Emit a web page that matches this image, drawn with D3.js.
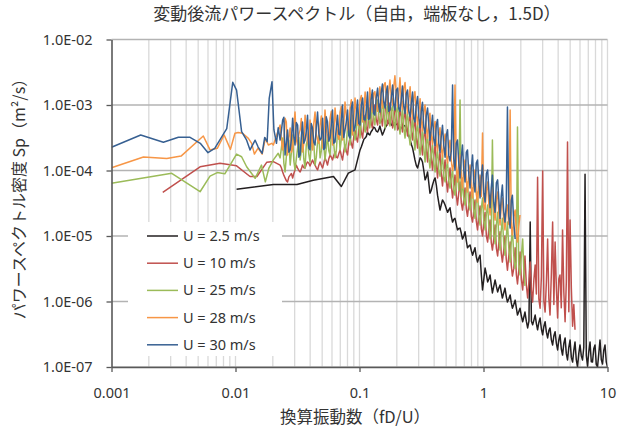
<!DOCTYPE html>
<html>
<head>
<meta charset="utf-8">
<script src="https://cdn.jsdelivr.net/npm/d3@7"></script>
<style>
  body { margin: 0; background: #fff; }
  svg { display: block; font-family: "Noto Sans", "Noto Sans CJK JP", sans-serif; }
</style>
</head>
<body>
<svg width="617" height="435"></svg>
<script>
// Data =====================================================

var labels = ["U = 2.5 m/s", "U = 10 m/s", "U = 25 m/s", "U = 28 m/s", "U = 30 m/s"];
var colors = ["#231f20", "#c0504d", "#9bbb59", "#f79646", "#376092"];

var yTicks = [1e-7, 1e-6, 1e-5, 1e-4, 1e-3, 1e-2];
var yTickLabels = ["1.0E-07", "1.0E-06", "1.0E-05", "1.0E-04", "1.0E-03", "1.0E-02"];
var xTicks = [0.001, 0.01, 0.1, 1, 10];
var xTickLabels = ["0.001", "0.01", "0.1", "1", "10"];

// frequency bins (fD/U) of the dense part of the spectra
var fGrid = [
  0.0229, 0.02344, 0.0240, 0.02454, 0.0251, 0.02569, 0.0263, 0.02694, 0.0276, 0.02824,
  0.0289, 0.02954, 0.0302, 0.03094, 0.0317, 0.03244, 0.0332, 0.03394, 0.0347, 0.03554,
  0.0364, 0.03724, 0.0381, 0.03899, 0.0399, 0.04084, 0.0418, 0.04279, 0.0438, 0.04484,
  0.0459, 0.04699, 0.0481, 0.04924, 0.0504, 0.05154, 0.0527, 0.05394, 0.0552, 0.05653,
  0.0579, 0.05924, 0.0606, 0.06203, 0.0635, 0.06498, 0.0665, 0.06808, 0.0697, 0.07133,
  0.0730, 0.07468, 0.0764, 0.07823, 0.0801, 0.08198, 0.0839, 0.08588, 0.0879, 0.08993,
  0.0920, 0.09418, 0.0964, 0.09868, 0.101, 0.1035, 0.106, 0.1085, 0.111, 0.1135,
  0.116, 0.1185, 0.121, 0.124, 0.127, 0.130, 0.133, 0.1365, 0.140, 0.143,
  0.146, 0.1495, 0.153, 0.157, 0.161, 0.1645, 0.168, 0.172, 0.176, 0.1805,
  0.185, 0.189, 0.193, 0.198, 0.203, 0.2075, 0.212, 0.217, 0.222, 0.2275,
  0.233, 0.2385, 0.244, 0.250, 0.256, 0.262, 0.268, 0.274, 0.280, 0.287,
  0.294, 0.301, 0.308, 0.315, 0.322, 0.330, 0.338, 0.346, 0.354, 0.362,
  0.370, 0.379, 0.388, 0.3975, 0.407, 0.4165, 0.426, 0.436, 0.446, 0.4565,
  0.467, 0.4785, 0.490, 0.5015, 0.513, 0.525, 0.537, 0.550, 0.563, 0.576,
  0.589, 0.603, 0.617, 0.632, 0.647, 0.662, 0.677, 0.6935, 0.710, 0.7265,
  0.743, 0.761, 0.779, 0.7975, 0.816, 0.835, 0.854, 0.8745, 0.895, 0.9165,
  0.938, 0.960, 0.982, 1.006, 1.03, 1.055, 1.08, 1.105, 1.13, 1.155,
  1.18, 1.21, 1.24, 1.27, 1.30, 1.33, 1.36, 1.39, 1.42, 1.455,
  1.49, 1.525, 1.56, 1.60, 1.64, 1.675, 1.71, 1.755, 1.80, 1.84,
  1.88, 1.925, 1.97, 2.02, 2.07, 2.115, 2.16, 2.215, 2.27, 2.325,
  2.38, 2.435, 2.49, 2.55, 2.61, 2.67, 2.73, 2.795, 2.86, 2.93,
  3.00, 3.07, 3.14, 3.215, 3.29, 3.365, 3.44, 3.525, 3.61, 3.695,
  3.78, 3.87, 3.96, 4.05, 4.14, 4.24, 4.34, 4.445, 4.55, 4.655,
  4.76, 4.875, 4.99, 5.11, 5.23, 5.35, 5.47, 5.60, 5.73, 5.865,
  6.00, 6.145, 6.29, 6.44, 6.59, 6.745, 6.90, 7.065, 7.23, 7.40,
  7.57, 7.75, 7.93, 8.12, 8.31, 8.505, 8.70, 8.91, 9.12, 9.335,
  9.55, 9.77, 10.0
];

// low frequency points [fD/U, Sp]
var lowU2_5 = [[0.0102, 5.17e-5], [0.0202, 6.1e-5], [0.0313, 6.1e-5], [0.0424, 7.1e-5],
  [0.0617, 8.1e-5], [0.0714, 5.7e-5], [0.0813, 9.1e-5], [0.092, 1.02e-4]];
var lowU10 = [[0.00259, 4.64e-5], [0.00518, 1.14e-4], [0.0075, 1.29e-4], [0.0102, 1.18e-4],
  [0.0131, 8.1e-5], [0.0149, 8.1e-5], [0.0179, 1.34e-4], [0.0202, 1.37e-4]];
var lowU25 = [[0.001, 6.38e-5], [0.00306, 9.06e-5], [0.00518, 4.74e-5], [0.00623, 8.2e-5],
  [0.00713, 9.3e-5], [0.0082, 8.9e-5], [0.0102, 1.78e-4], [0.0112, 1.62e-4], [0.0123, 1.14e-4],
  [0.0144, 7.6e-5], [0.0162, 1.21e-4], [0.0174, 6.7e-5], [0.0186, 1.09e-4], [0.0202, 1.45e-4],
  [0.0221, 1.83e-4]];
var lowU28 = [[0.001, 1.10e-4], [0.00181, 1.61e-4], [0.00279, 1.53e-4], [0.00364, 1.66e-4],
  [0.0055, 3.36e-4], [0.00623, 2.06e-4], [0.00713, 2.18e-4], [0.0081, 3.48e-4], [0.0091, 2.1e-4],
  [0.0099, 3.7e-4], [0.0105, 3.8e-4], [0.0114, 3.7e-4], [0.0127, 3.1e-4], [0.0135, 2.6e-4],
  [0.0142, 1.78e-4], [0.0152, 2.2e-4], [0.0164, 1.78e-4], [0.0174, 3.1e-4], [0.0184, 2.45e-4],
  [0.0196, 2.6e-4], [0.0202, 2.45e-4], [0.0215, 3.5e-4]];
var lowU30 = [[0.001, 2.26e-4], [0.00172, 3.48e-4], [0.00262, 2.70e-4], [0.00346, 3.21e-4],
  [0.0043, 3.21e-4], [0.0052, 2.6e-4], [0.006, 1.87e-4], [0.0068, 2.18e-4], [0.0085, 4.35e-4],
  [0.0095, 2.22e-3], [0.0102, 1.69e-3], [0.0112, 3.91e-4], [0.0123, 2.9e-4], [0.0131, 2.06e-4],
  [0.0144, 2.9e-4], [0.0152, 2.3e-4], [0.0164, 1.83e-4], [0.0172, 3.2e-4], [0.018, 2.75e-4],
  [0.0187, 1.26e-3], [0.0197, 2.27e-3], [0.0204, 4.2e-4], [0.0214, 2.6e-4], [0.0221, 4.5e-4]];

// dense part: Sp on fGrid, starting at fGrid[denseStart[k]]
var denseStart = [64, 0, 0, 0, 0];
var denseU2_5 = [
  2.06e-4, 2.3e-4, 2.63e-4, 3.0e-4, 3.13e-4, 3.3e-4, 3.87e-4, 3.6e-4, 3.48e-4, 3.9e-4,
  4.15e-4, 4.6e-4, 4.46e-4, 4.0e-4, 3.87e-4, 4.2e-4, 4.78e-4, 4.0e-4, 3.48e-4, 3.9e-4,
  4.46e-4, 4.8e-4, 5.13e-4, 5.4e-4, 5.7e-4, 5.0e-4, 4.78e-4, 5.2e-4, 5.3e-4, 5.1e-4,
  4.95e-4, 4.4e-4, 4.15e-4, 4.5e-4, 4.62e-4, 4.9e-4, 4.78e-4, 4.3e-4, 3.87e-4, 3.4e-4,
  2.92e-4, 2.5e-4, 2.2e-4, 1.8e-4, 1.45e-4, 1.2e-4, 1.09e-4, 1.3e-4, 1.56e-4, 1.5e-4,
  1.35e-4, 1.0e-4, 7.2e-5, 8.0e-5, 9.5e-5, 6.5e-5, 4.5e-5, 5.0e-5, 6.0e-5, 7.0e-5,
  7.7e-5, 6.0e-5, 4.2e-5, 3.2e-5, 2.49e-5, 3.0e-5, 3.55e-5, 3.3e-5, 2.97e-5, 2.6e-5,
  2.3e-5, 2.5e-5, 2.7e-5, 2.0e-5, 1.63e-5, 1.8e-5, 1.86e-5, 1.5e-5, 1.24e-5, 1.3e-5,
  1.32e-5, 1.1e-5, 9.0e-6, 1.0e-5, 1.16e-5, 8.5e-6, 6.6e-6, 7.0e-6, 7.3e-6, 6.0e-6,
  5.1e-6, 5.8e-6, 6.6e-6, 4.8e-6, 4.0e-6, 4.6e-6, 5.1e-6, 2.6e-6, 1.5e-6, 2.2e-6,
  3.24e-6, 2.6e-6, 1.99e-6, 2.2e-6, 2.54e-6, 1.8e-6, 1.35e-6, 1.7e-6, 2.13e-6, 1.7e-6,
  1.4e-6, 1.6e-6, 1.79e-6, 1.4e-6, 1.13e-6, 1.35e-6, 1.6e-6, 1.2e-6, 9.8e-7, 1.1e-6,
  1.26e-6, 9.5e-7, 7.9e-7, 9.0e-7, 1.05e-6, 8.0e-7, 6.2e-7, 7.0e-7, 7.9e-7, 6.0e-7,
  4.9e-7, 5.8e-7, 6.9e-7, 5.0e-7, 3.95e-7, 5.0e-7, 1.63e-5, 5.0e-7, 4.4e-7, 5.2e-7,
  6.2e-7, 4.6e-7, 3.7e-7, 4.8e-7, 5.6e-7, 3.8e-7, 3.1e-7, 4.2e-7, 4.9e-7, 3.4e-7,
  2.78e-7, 3.6e-7, 3.95e-7, 2.6e-7, 2.17e-7, 3.0e-7, 3.45e-7, 2.3e-7, 1.82e-7, 2.6e-7,
  3.1e-7, 1.9e-7, 1.52e-7, 2.3e-7, 2.78e-7, 1.6e-7, 1.28e-7, 2.0e-7, 2.58e-7, 1.4e-7,
  1.19e-7, 1.8e-7, 2.4e-7, 1.3e-7, 1.0e-7, 1.6e-7, 2.17e-7, 1.5e-7, 1.28e-7, 2.0e-7,
  8.8e-5, 1.5e-7, 1.03e-7, 1.7e-7, 2.4e-7, 1.2e-7, 1.19e-7, 1.9e-7, 2.17e-7, 1.1e-7,
  1.0e-7, 1.6e-7, 2.58e-7, 1.3e-7, 1.11e-7, 1.8e-7, 2.17e-7, 1.2e-7, 1.0e-7
];
var denseU10 = [
  1.21e-4, 1.1e-4, 9.5e-5, 8.5e-5, 7.7e-5, 7.0e-5, 6.7e-5, 8.0e-5, 8.5e-5, 9.0e-5,
  7.7e-5, 9.0e-5, 1.02e-4, 1.2e-4, 1.09e-4, 1.0e-4, 9.5e-5, 1.05e-4, 1.21e-4, 1.1e-4,
  1.09e-4, 1.25e-4, 1.35e-4, 1.3e-4, 1.17e-4, 1.3e-4, 1.45e-4, 1.3e-4, 1.21e-4, 1.1e-4,
  1.02e-4, 1.2e-4, 1.35e-4, 1.2e-4, 1.09e-4, 1.3e-4, 1.56e-4, 1.4e-4, 1.21e-4, 1.5e-4,
  1.73e-4, 1.6e-4, 1.45e-4, 1.7e-4, 1.92e-4, 1.6e-4, 1.56e-4, 1.8e-4, 2.06e-4, 1.7e-4,
  1.45e-4, 2.0e-4, 2.45e-4, 2.0e-4, 1.73e-4, 2.6e-4, 3.13e-4, 2.6e-4, 2.2e-4, 3.3e-4,
  4.15e-4, 3.2e-4, 2.72e-4, 4.2e-4, 5.5e-4, 3.8e-4, 3.13e-4, 5.2e-4, 7.0e-4, 4.6e-4,
  3.87e-4, 6.5e-4, 9.0e-4, 5.5e-4, 4.46e-4, 7.5e-4, 1.0e-3, 6.0e-4, 4.95e-4, 8.0e-4,
  1.04e-3, 6.5e-4, 4.78e-4, 9.0e-4, 1.11e-3, 7.0e-4, 4.95e-4, 6.0e-4, 1.07e-3, 8.0e-4,
  4.46e-4, 6.0e-4, 9.7e-4, 7.5e-4, 4.15e-4, 5.5e-4, 9.0e-4, 6.5e-4, 3.87e-4, 6.0e-4,
  8.5e-4, 5.0e-4, 3.36e-4, 5.5e-4, 7.5e-4, 4.0e-4, 2.92e-4, 4.6e-4, 6.3e-4, 3.2e-4,
  2.2e-4, 3.6e-4, 5.2e-4, 2.6e-4, 1.73e-4, 3.2e-4, 4.3e-4, 2.2e-4, 1.35e-4, 2.4e-4,
  3.3e-4, 1.6e-4, 1.02e-4, 1.7e-4, 2.45e-4, 1.3e-4, 7.7e-5, 1.4e-4, 1.92e-4, 9.0e-5,
  5.8e-5, 1.0e-4, 1.45e-4, 7.0e-5, 4.7e-5, 7.5e-5, 1.09e-4, 6.0e-5, 3.8e-5, 5.5e-5,
  8.5e-5, 4.2e-5, 2.97e-5, 4.6e-5, 6.7e-5, 3.2e-5, 2.49e-5, 3.6e-5, 5.4e-5, 2.6e-5,
  2.0e-5, 3.0e-5, 4.7e-5, 2.0e-5, 1.63e-5, 2.4e-5, 3.55e-5, 1.7e-5, 1.24e-5, 2.0e-5,
  2.87e-5, 1.3e-5, 1.0e-5, 1.6e-5, 2.3e-5, 1.0e-5, 8.1e-6, 1.3e-5, 1.75e-5, 8.0e-6,
  6.1e-6, 9.0e-6, 1.47e-5, 6.5e-6, 4.95e-6, 8.0e-6, 1.16e-5, 5.5e-6, 4.0e-6, 6.0e-6,
  1.0e-5, 4.5e-6, 3.0e-6, 5.0e-6, 8.1e-6, 3.6e-6, 2.45e-6, 3.2e-6, 6.6e-6, 2.6e-6,
  1.85e-6, 3.0e-6, 5.7e-6, 2.2e-6, 1.5e-6, 2.6e-6, 4.95e-6, 1.8e-6, 1.13e-6, 2.0e-6,
  4.0e-6, 1.5e-6, 9.8e-7, 2.2e-6, 3.6e-6, 1.3e-6, 7.9e-5, 1.1e-6, 7.9e-7, 2.4e-6,
  9.85e-5, 1.0e-6, 6.9e-7, 2.0e-6, 9.0e-6, 1.1e-6, 6.2e-7, 2.6e-6, 1.63e-5, 9.0e-7,
  8.1e-6, 1.6e-6, 5.6e-7, 2.2e-6, 2.54e-6, 8.0e-7, 1.24e-5, 1.4e-6, 4.9e-7, 2.0e-6,
  2.72e-4, 7.0e-7, 1.75e-5, 1.6e-6, 4.2e-7, 9.0e-7, 3.7e-7
];
var denseU25 = [
  1.56e-4, 2.2e-4, 3.13e-4, 1.3e-4, 9.5e-5, 1.6e-4, 2.45e-4, 2.9e-4, 1.21e-4, 1.9e-4,
  3.48e-4, 1.4e-4, 1.02e-4, 1.5e-4, 2.2e-4, 3.2e-4, 1.45e-4, 2.0e-4, 3.87e-4, 1.5e-4,
  1.09e-4, 2.5e-4, 2.92e-4, 1.8e-4, 1.35e-4, 2.4e-4, 4.15e-4, 2.6e-4, 1.21e-4, 1.6e-4,
  2.72e-4, 3.4e-4, 1.56e-4, 2.0e-4, 4.46e-4, 2.4e-4, 1.45e-4, 2.2e-4, 3.48e-4, 2.0e-4,
  1.73e-4, 3.8e-4, 4.95e-4, 2.5e-4, 1.56e-4, 2.0e-4, 3.87e-4, 4.4e-4, 2.06e-4, 3.0e-4,
  5.9e-4, 3.4e-4, 1.92e-4, 2.6e-4, 4.46e-4, 5.5e-4, 2.45e-4, 3.8e-4, 7.0e-4, 4.2e-4,
  2.92e-4, 3.6e-4, 7.8e-4, 5.0e-4, 3.13e-4, 6.5e-4, 9.0e-4, 5.2e-4, 3.87e-4, 5.0e-4,
  1.0e-3, 7.5e-4, 4.46e-4, 6.0e-4, 1.11e-3, 6.5e-4, 4.95e-4, 9.0e-4, 1.19e-3, 7.0e-4,
  5.13e-4, 6.2e-4, 1.11e-3, 8.5e-4, 4.46e-4, 6.0e-4, 1.04e-3, 6.5e-4, 4.78e-4, 8.0e-4,
  9.7e-4, 5.6e-4, 4.15e-4, 7.5e-4, 1.0e-3, 6.0e-4, 3.6e-4, 5.0e-4, 9.0e-4, 4.5e-4,
  3.13e-4, 5.8e-4, 7.8e-4, 3.6e-4, 2.45e-4, 4.0e-4, 6.5e-4, 3.4e-4, 2.06e-4, 3.9e-4,
  5.2e-4, 2.5e-4, 1.73e-4, 2.6e-4, 4.2e-4, 2.2e-4, 1.35e-4, 2.6e-4, 3.4e-4, 1.6e-4,
  1.09e-4, 1.8e-4, 2.45e-4, 1.3e-4, 9.5e-5, 1.5e-4, 2.06e-4, 1.0e-4, 8.2e-5, 1.2e-4,
  1.73e-4, 8.0e-5, 6.7e-5, 1.1e-4, 1.35e-4, 7.0e-5, 5.4e-5, 7.5e-5, 1.09e-4, 5.0e-5,
  4.2e-5, 6.8e-5, 9.5e-5, 5.0e-5, 1.19e-3, 4.0e-5, 7.7e-5, 3.6e-5, 2.97e-5, 5.0e-5,
  6.7e-5, 3.0e-5, 2.49e-5, 4.0e-5, 5.4e-5, 2.4e-5, 1.86e-5, 3.4e-5, 4.7e-5, 2.0e-5,
  1.47e-5, 2.6e-5, 3.8e-5, 1.7e-5, 1.24e-5, 2.2e-5, 2.97e-5, 1.4e-5, 9.0e-6, 1.2e-5,
  2.92e-4, 1.1e-5, 7.6e-6, 1.5e-5, 2.3e-5, 9.0e-6, 6.1e-6, 1.2e-5, 1.86e-5, 8.0e-6,
  5.1e-6, 9.5e-6, 1.63e-5, 6.5e-6, 4.0e-6, 8.0e-6, 1.32e-5, 5.0e-6, 3.2e-6, 4.0e-6,
  4.62e-4, 3.6e-6, 2.54e-6, 5.0e-6, 9.0e-6, 3.0e-6, 1.73e-6
];
var denseU28 = [
  4.95e-4, 3.0e-4, 2.06e-4, 2.8e-4, 6.3e-4, 5.5e-4, 1.73e-4, 3.2e-4, 4.46e-4, 1.9e-4,
  2.2e-4, 5.0e-4, 7.8e-4, 3.0e-4, 2.45e-4, 3.6e-4, 4.15e-4, 6.2e-4, 1.92e-4, 2.6e-4,
  7.0e-4, 4.2e-4, 2.72e-4, 2.3e-4, 5.9e-4, 4.0e-4, 2.06e-4, 5.2e-4, 7.8e-4, 3.6e-4,
  2.92e-4, 2.6e-4, 4.95e-4, 6.8e-4, 2.2e-4, 3.4e-4, 8.4e-4, 4.5e-4, 3.13e-4, 2.8e-4,
  6.3e-4, 8.0e-4, 2.45e-4, 3.8e-4, 9.0e-4, 5.4e-4, 3.48e-4, 3.0e-4, 7.8e-4, 9.5e-4,
  2.92e-4, 4.8e-4, 1.11e-3, 7.0e-4, 4.15e-4, 4.0e-4, 9.0e-4, 1.2e-3, 3.48e-4, 6.0e-4,
  1.28e-3, 8.0e-4, 4.95e-4, 5.0e-4, 1.19e-3, 1.4e-3, 5.5e-4, 8.0e-4, 1.58e-3, 9.5e-4,
  6.3e-4, 7.0e-4, 1.81e-3, 1.1e-3, 7.8e-4, 1.5e-3, 1.6e-3, 1.0e-3, 8.0e-4, 1.3e-3,
  1.9e-3, 1.2e-3, 9.0e-4, 2.0e-3, 2.2e-3, 1.4e-3, 1.0e-3, 1.6e-3, 2.4e-3, 1.3e-3,
  1.0e-3, 1.9e-3, 2.8e-3, 1.5e-3, 9.5e-4, 1.4e-3, 2.6e-3, 1.2e-3, 8.5e-4, 1.8e-3,
  2.2e-3, 1.1e-3, 7.5e-4, 1.2e-3, 1.9e-3, 9.0e-4, 6.0e-4, 1.3e-3, 1.6e-3, 7.5e-4,
  5.0e-4, 8.0e-4, 1.25e-3, 6.0e-4, 4.0e-4, 8.0e-4, 1.0e-3, 4.5e-4, 3.1e-4, 5.5e-4,
  7.5e-4, 3.4e-4, 2.5e-4, 4.6e-4, 5.6e-4, 2.6e-4, 2.0e-4, 3.4e-4, 4.5e-4, 2.2e-4,
  1.6e-4, 2.8e-4, 3.6e-4, 1.7e-4, 1.3e-4, 2.2e-4, 2.9e-4, 1.4e-4, 1.0e-4, 1.3e-4,
  2.02e-3, 1.2e-4, 6.7e-5, 1.3e-4, 1.73e-4, 8.0e-5, 5.4e-5, 1.1e-4, 1.45e-4, 7.0e-5,
  4.7e-5, 9.0e-5, 1.21e-4, 5.5e-5, 3.8e-5, 8.0e-5, 1.02e-4, 4.4e-5, 3.3e-5, 6.0e-5,
  8.5e-5, 4.0e-5, 3.74e-4, 3.0e-5, 2.49e-5, 5.0e-5, 6.7e-5, 3.0e-5, 2.09e-5, 4.2e-5,
  5.4e-5, 2.6e-5, 1.75e-5, 3.6e-5, 4.7e-5, 2.2e-5, 1.47e-5, 3.0e-5, 3.8e-5, 1.8e-5,
  1.24e-5, 2.4e-5, 2.97e-5, 1.5e-5, 8.4e-4, 1.4e-5, 1.04e-5, 2.0e-5, 2.49e-5, 1.1e-5,
  8.1e-6, 1.4e-5, 2.09e-5
];
var denseU30 = [
  2.92e-4, 4.0e-4, 5.9e-4, 6.5e-4, 1.73e-4, 2.6e-4, 4.15e-4, 1.9e-4, 2.06e-4, 3.0e-4,
  6.3e-4, 3.3e-4, 2.45e-4, 5.4e-4, 4.95e-4, 1.6e-4, 1.73e-4, 3.2e-4, 5.5e-4, 2.6e-4,
  2.92e-4, 4.0e-4, 7.0e-4, 2.2e-4, 2.06e-4, 5.2e-4, 4.46e-4, 2.7e-4, 2.45e-4, 4.6e-4,
  7.8e-4, 3.6e-4, 2.92e-4, 3.1e-4, 6.3e-4, 2.1e-4, 2.2e-4, 6.6e-4, 5.5e-4, 2.8e-4,
  3.13e-4, 5.0e-4, 8.4e-4, 2.6e-4, 2.72e-4, 4.4e-4, 7.0e-4, 3.6e-4, 3.48e-4, 6.0e-4,
  1.0e-3, 3.2e-4, 4.15e-4, 5.5e-4, 8.4e-4, 3.4e-4, 3.13e-4, 9.0e-4, 1.11e-3, 4.0e-4,
  4.46e-4, 7.0e-4, 1.19e-3, 5.2e-4, 4.95e-4, 1.0e-3, 1.28e-3, 6.0e-4, 5.9e-4, 8.5e-4,
  1.58e-3, 6.0e-4, 6.3e-4, 1.2e-3, 1.69e-3, 7.4e-4, 7.0e-4, 1.3e-3, 1.81e-3, 9.5e-4,
  7.8e-4, 1.5e-3, 2.09e-3, 1.1e-3, 9.0e-4, 1.6e-3, 1.95e-3, 8.0e-4, 8.4e-4, 1.3e-3,
  2.02e-3, 1.0e-3, 8.4e-4, 1.7e-3, 1.81e-3, 8.8e-4, 8.0e-4, 1.2e-3, 1.95e-3, 9.5e-4,
  7.4e-4, 1.5e-3, 1.69e-3, 8.0e-4, 6.6e-4, 1.1e-3, 1.58e-3, 6.2e-4, 5.5e-4, 1.0e-3,
  1.35e-3, 6.5e-4, 4.5e-4, 8.0e-4, 1.1e-3, 4.6e-4, 3.7e-4, 7.0e-4, 9.0e-4, 5.0e-4,
  2.9e-4, 4.4e-4, 7.0e-4, 3.0e-4, 2.4e-4, 5.0e-4, 6.0e-4, 2.6e-4, 1.9e-4, 3.3e-4,
  4.9e-4, 2.4e-4, 1.6e-4, 3.5e-4, 4.2e-4, 1.7e-4, 1.4e-4, 2.0e-4, 2.02e-3, 1.5e-4,
  1.02e-4, 2.6e-4, 2.92e-4, 1.3e-4, 7.7e-5, 1.6e-4, 2.45e-4, 1.0e-4, 6.7e-5, 1.9e-4,
  2.06e-4, 9.0e-5, 5.4e-5, 1.1e-4, 1.73e-4, 6.5e-5, 4.7e-5, 1.3e-4, 1.45e-4, 7.0e-5,
  3.8e-5, 8.0e-5, 1.21e-4, 4.5e-5, 3.3e-5, 9.0e-5, 1.02e-4, 5.0e-5, 2.7e-5, 5.5e-5,
  8.5e-5, 3.2e-5, 2.3e-5, 6.5e-5, 7.2e-5, 3.6e-5, 1.86e-5, 4.0e-5, 6.0e-5, 2.4e-5,
  1.63e-5, 3.0e-5, 9.3e-4, 2.0e-5, 1.32e-5, 3.5e-5, 4.2e-5, 1.6e-5, 9.0e-6
];

var lows = [lowU2_5, lowU10, lowU25, lowU28, lowU30];
var denses = [denseU2_5, denseU10, denseU25, denseU28, denseU30];

// Chart ====================================================

var svg = d3.select("svg");
var textColor = "#333";

var x = d3.scaleLog().domain([0.001, 10]).range([111.5, 607.5]);
var y = d3.scaleLog().domain([1e-7, 1e-2]).range([367, 39.5]);

// gridlines
var minorX = [];
[0.001, 0.01, 0.1, 1].forEach(function (d) {
  for (var k = 2; k <= 10; k++) minorX.push(d * k);
});

var grid = svg.append("g").attr("class", "grid");
grid.selectAll("line.v")
  .data(minorX)
  .enter().append("line")
  .attr("class", "v")
  .attr("x1", function (d) { return x(d); })
  .attr("x2", function (d) { return x(d); })
  .attr("y1", y(1e-2))
  .attr("y2", y(1e-7))
  .attr("stroke", "#d9d9d9")
  .attr("stroke-width", 1.3);

grid.selectAll("line.h")
  .data(yTicks)
  .enter().append("line")
  .attr("class", "h")
  .attr("x1", x(0.001))
  .attr("x2", x(10))
  .attr("y1", function (d) { return y(d); })
  .attr("y2", function (d) { return y(d); })
  .attr("stroke", "#b3b3b3")
  .attr("stroke-width", 1.3);

// clip for series
svg.append("defs").append("clipPath").attr("id", "plot")
  .append("rect")
  .attr("x", x(0.001)).attr("y", y(1e-2))
  .attr("width", x(10) - x(0.001)).attr("height", y(1e-7) - y(1e-2));

var series = lows.map(function (low, k) {
  var start = denseStart[k];
  var dense = denses[k].map(function (v, i) { return [fGrid[start + i], v]; });
  return low.concat(dense);
});

var line = d3.line()
  .x(function (d) { return x(d[0]); })
  .y(function (d) { return y(d[1]); });

var lines = svg.append("g").attr("clip-path", "url(#plot)");
series.forEach(function (s, k) {
  lines.append("path")
    .datum(s)
    .attr("d", line)
    .attr("fill", "none")
    .attr("stroke", colors[k])
    .attr("stroke-width", 1.5)
    .attr("stroke-linejoin", "round");
});

// axes
var yAxis = d3.axisLeft(y)
  .tickValues(yTicks)
  .tickFormat(function (d, i) { return yTickLabels[i]; })
  .tickSize(5).tickSizeOuter(0).tickPadding(14);

var xAxis = d3.axisBottom(x)
  .tickValues(xTicks)
  .tickFormat(function (d, i) { return xTickLabels[i]; })
  .tickSize(5).tickSizeOuter(0).tickPadding(16);

var gy = svg.append("g").attr("transform", "translate(" + x(0.001) + ",0)").call(yAxis);
var gx = svg.append("g").attr("transform", "translate(0," + y(1e-7) + ")").call(xAxis);

[gx, gy].forEach(function (g) {
  g.select(".domain").attr("stroke", "#595959").attr("stroke-width", 1.6);
  g.selectAll(".tick line").attr("stroke", "#595959").attr("stroke-width", 1.3);
  g.selectAll(".tick text")
    .attr("fill", textColor)
    .style("font-size", "14.5px")
    .style("font-family", "'Noto Sans', sans-serif");
});

// legend
var legend = svg.append("g").attr("class", "legend");
legend.append("rect")
  .attr("x", 128).attr("y", 222)
  .attr("width", 154).attr("height", 134)
  .attr("fill", "#fff");

var items = legend.selectAll("g.item")
  .data(labels)
  .enter().append("g")
  .attr("class", "item")
  .attr("transform", function (d, i) { return "translate(0," + (236 + i * 27.2) + ")"; });

items.append("line")
  .attr("x1", 147).attr("x2", 178)
  .attr("stroke", function (d, i) { return colors[i]; })
  .attr("stroke-width", 1.5);

items.append("text")
  .attr("x", 183)
  .attr("dy", "0.35em")
  .attr("fill", textColor)
  .style("font-size", "14.5px")
  .text(function (d) { return d; });

// titles
svg.append("text")
  .attr("x", 357).attr("y", 20)
  .attr("text-anchor", "middle")
  .attr("fill", textColor)
  .style("font-family", "'Noto Sans CJK JP', sans-serif")
  .style("font-size", "17px")
  .text("変動後流パワースペクトル（自由，端板なし，1.5D）");

svg.append("text")
  .attr("x", 355).attr("y", 423)
  .attr("text-anchor", "middle")
  .attr("fill", textColor)
  .style("font-family", "'Noto Sans CJK JP', sans-serif")
  .style("font-size", "16.5px")
  .text("換算振動数（fD/U）");

svg.append("text")
  .attr("transform", "translate(25,195) rotate(-90)")
  .attr("text-anchor", "middle")
  .attr("fill", textColor)
  .style("font-family", "'Noto Sans CJK JP', sans-serif")
  .style("font-size", "16px")
  .text("パワースペクトル密度 Sp（m²/s）");
</script>
</body>
</html>
